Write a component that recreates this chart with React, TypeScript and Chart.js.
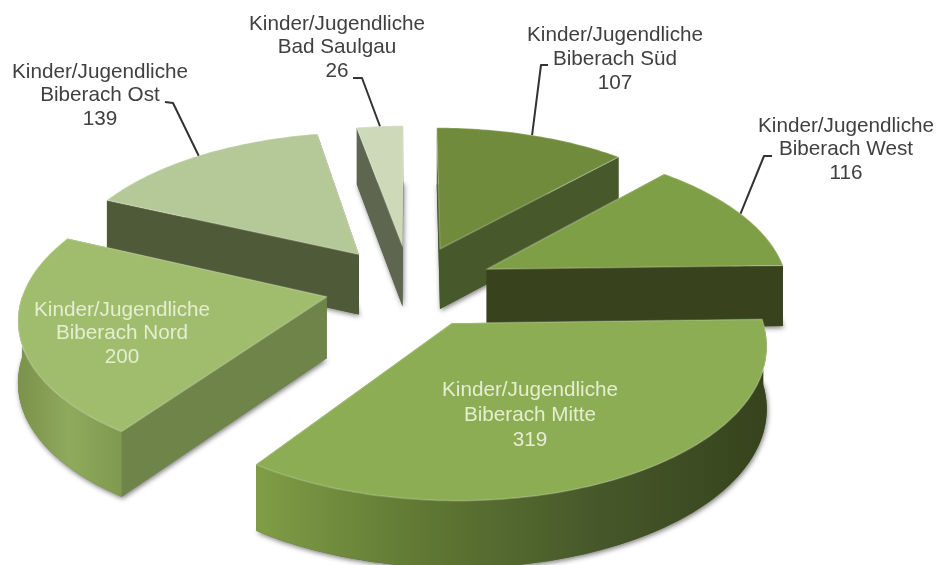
import React, { useEffect, useRef } from "react";
import { Chart, registerables } from "chart.js";

Chart.register(...registerables);

const categories = ["Biberach Süd", "Biberach West", "Biberach Mitte", "Biberach Nord", "Biberach Ost", "Bad Saulgau"];
const prefix = "Kinder/Jugendliche";
const values = [107, 116, 319, 200, 139, 26];

const topColors = ["#6f8b3b", "#7f9f46", "#8cad53", "#a0bd6d", "#b5c897", "#cdd9b9"];
const cutColors = ["#47592a", "#38421c", "#55692f", "#6f8448", "#4f5a38", "#5e6650"];
const wallStops = [
  ["#47592a", "#47592a"],
  ["#38421c", "#38421c"],
  ["#809d46", "#5f7733", "#46582a", "#36431c"],
  ["#7a9249", "#8fa95d", "#7f9a4e"],
  ["#4f5a38", "#4f5a38"],
  ["#5e6650", "#5e6650"],
];
const paintOrder = [5, 0, 4, 1, 3, 2];

// Projection of the tilted pie
const CX = 410, CY = 286, RX = 302, RY = 145, PERSP = 0.125, DEPTH = 61, EXPLODE = 0.283;

// Label layout: centre x, first line y, line height, colour, elbow of the leader
const labelBoxes = [
  { x: 615, y: 35, lh: 24, color: "#404040", elbow: [[548, 65], [541, 65]] },
  { x: 846, y: 126, lh: 23.7, color: "#404040", elbow: [[772, 156], [764, 156]] },
  { x: 530, y: 390, lh: 25, color: "#e4eed0", elbow: null },
  { x: 122, y: 310, lh: 23.7, color: "#e4eed0", elbow: null },
  { x: 100, y: 72, lh: 23.5, color: "#404040", elbow: [[165, 102], [173, 103]] },
  { x: 337, y: 24, lh: 23.5, color: "#404040", elbow: [[353, 78], [362, 78]] },
];

function project(X: number, Y: number, z = 0): [number, number] {
  const s = 1 / (1 - PERSP * Y);
  return [CX + X * RX * s, CY + Y * RY * s + z * DEPTH * (0.45 + 0.55 * s)];
}

const pie3d = {
  id: "pie3d",
  beforeDatasetDraw() {
    return false;
  },
  afterDatasetsDraw(chart: any) {
    const { ctx } = chart;
    const arcs = chart.getDatasetMeta(0).data;
    const geo = arcs.map((a: any) => {
      const t0 = a.startAngle + Math.PI / 2;
      const t1 = a.endAngle + Math.PI / 2;
      const mid = (t0 + t1) / 2;
      const ox = Math.sin(mid) * EXPLODE;
      const oy = -Math.cos(mid) * EXPLODE;
      return { t0, t1, mid, ox, oy };
    });
    const rim = (g: any, t: number, z = 0) => project(g.ox + Math.sin(t), g.oy - Math.cos(t), z);
    const sample = (t0: number, t1: number) => {
      const n = Math.max(2, Math.ceil((t1 - t0) / 0.02));
      const out: number[] = [];
      for (let k = 0; k <= n; k++) out.push(t0 + ((t1 - t0) * k) / n);
      return out;
    };
    const poly = (pts: number[][]) => {
      ctx.beginPath();
      pts.forEach((p, k) => (k ? ctx.lineTo(p[0], p[1]) : ctx.moveTo(p[0], p[1])));
      ctx.closePath();
    };

    ctx.save();
    ctx.lineJoin = "round";
    for (const i of paintOrder) {
      const g = geo[i];
      const a0 = project(g.ox, g.oy);
      const a1 = project(g.ox, g.oy, 1);
      const ts = sample(g.t0, g.t1);

      // drop shadow of the whole extruded body
      ctx.save();
      ctx.shadowColor = "rgba(0,0,0,0.5)";
      ctx.shadowBlur = 5;
      ctx.shadowOffsetX = 1;
      ctx.shadowOffsetY = 2;
      ctx.fillStyle = cutColors[i];
      poly([a1, ...ts.map((t) => rim(g, t, 1))]);
      ctx.fill();
      ctx.restore();

      // cut faces
      ctx.fillStyle = cutColors[i];
      for (const t of [g.t0, g.t1]) {
        poly([a0, rim(g, t), rim(g, t, 1), a1]);
        ctx.fill();
      }

      // outer curved wall, front facing part only
      const w0 = Math.max(g.t0, Math.PI / 2);
      const w1 = Math.min(g.t1, (3 * Math.PI) / 2);
      if (w1 > w0) {
        const ws = sample(w0, w1);
        const xs = ws.map((t) => rim(g, t)[0]);
        const grad = ctx.createLinearGradient(Math.min(...xs), 0, Math.max(...xs), 0);
        const stops = wallStops[i];
        stops.forEach((c, k) => grad.addColorStop(k / (stops.length - 1), c));
        ctx.fillStyle = grad;
        poly([...ws.map((t) => rim(g, t)), ...ws.slice().reverse().map((t) => rim(g, t, 1))]);
        ctx.fill();
      }

      // top
      ctx.fillStyle = topColors[i];
      poly([a0, ...ts.map((t) => rim(g, t))]);
      ctx.fill();
      ctx.strokeStyle = "rgba(255,255,255,0.22)";
      ctx.lineWidth = 1.5;
      ctx.stroke();
    }

    // labels
    ctx.font = '20.7px "Liberation Sans", Arial, sans-serif';
    ctx.textAlign = "center";
    ctx.textBaseline = "middle";
    chart.data.labels.forEach((name: string, i: number) => {
      const box = labelBoxes[i];
      ctx.fillStyle = box.color;
      [prefix, name, String(values[i])].forEach((line, k) => {
        ctx.fillText(line, box.x, box.y + k * box.lh);
      });
      if (box.elbow) {
        const end = rim(geo[i], geo[i].mid);
        ctx.strokeStyle = "#333333";
        ctx.lineWidth = 2;
        ctx.beginPath();
        ctx.moveTo(box.elbow[0][0], box.elbow[0][1]);
        ctx.lineTo(box.elbow[1][0], box.elbow[1][1]);
        ctx.lineTo(end[0], end[1]);
        ctx.stroke();
      }
    });
    ctx.restore();
  },
};

export default function App() {
  const ref = useRef<HTMLCanvasElement>(null);
  useEffect(() => {
    document.body.style.margin = "0";
    const chart = new Chart(ref.current!, {
      type: "pie",
      data: {
        labels: categories,
        datasets: [{ data: values, backgroundColor: topColors }],
      },
      options: {
        responsive: false,
        animation: false,
        plugins: { legend: { display: false }, tooltip: { enabled: false } },
      },
      plugins: [pie3d],
    } as any);
    return () => chart.destroy();
  }, []);
  return (
    <canvas
      ref={ref}
      width={942}
      height={565}
      style={{ display: "block", width: 942, height: 565, background: "#fff", filter: "blur(0.7px)" }}
    />
  );
}
